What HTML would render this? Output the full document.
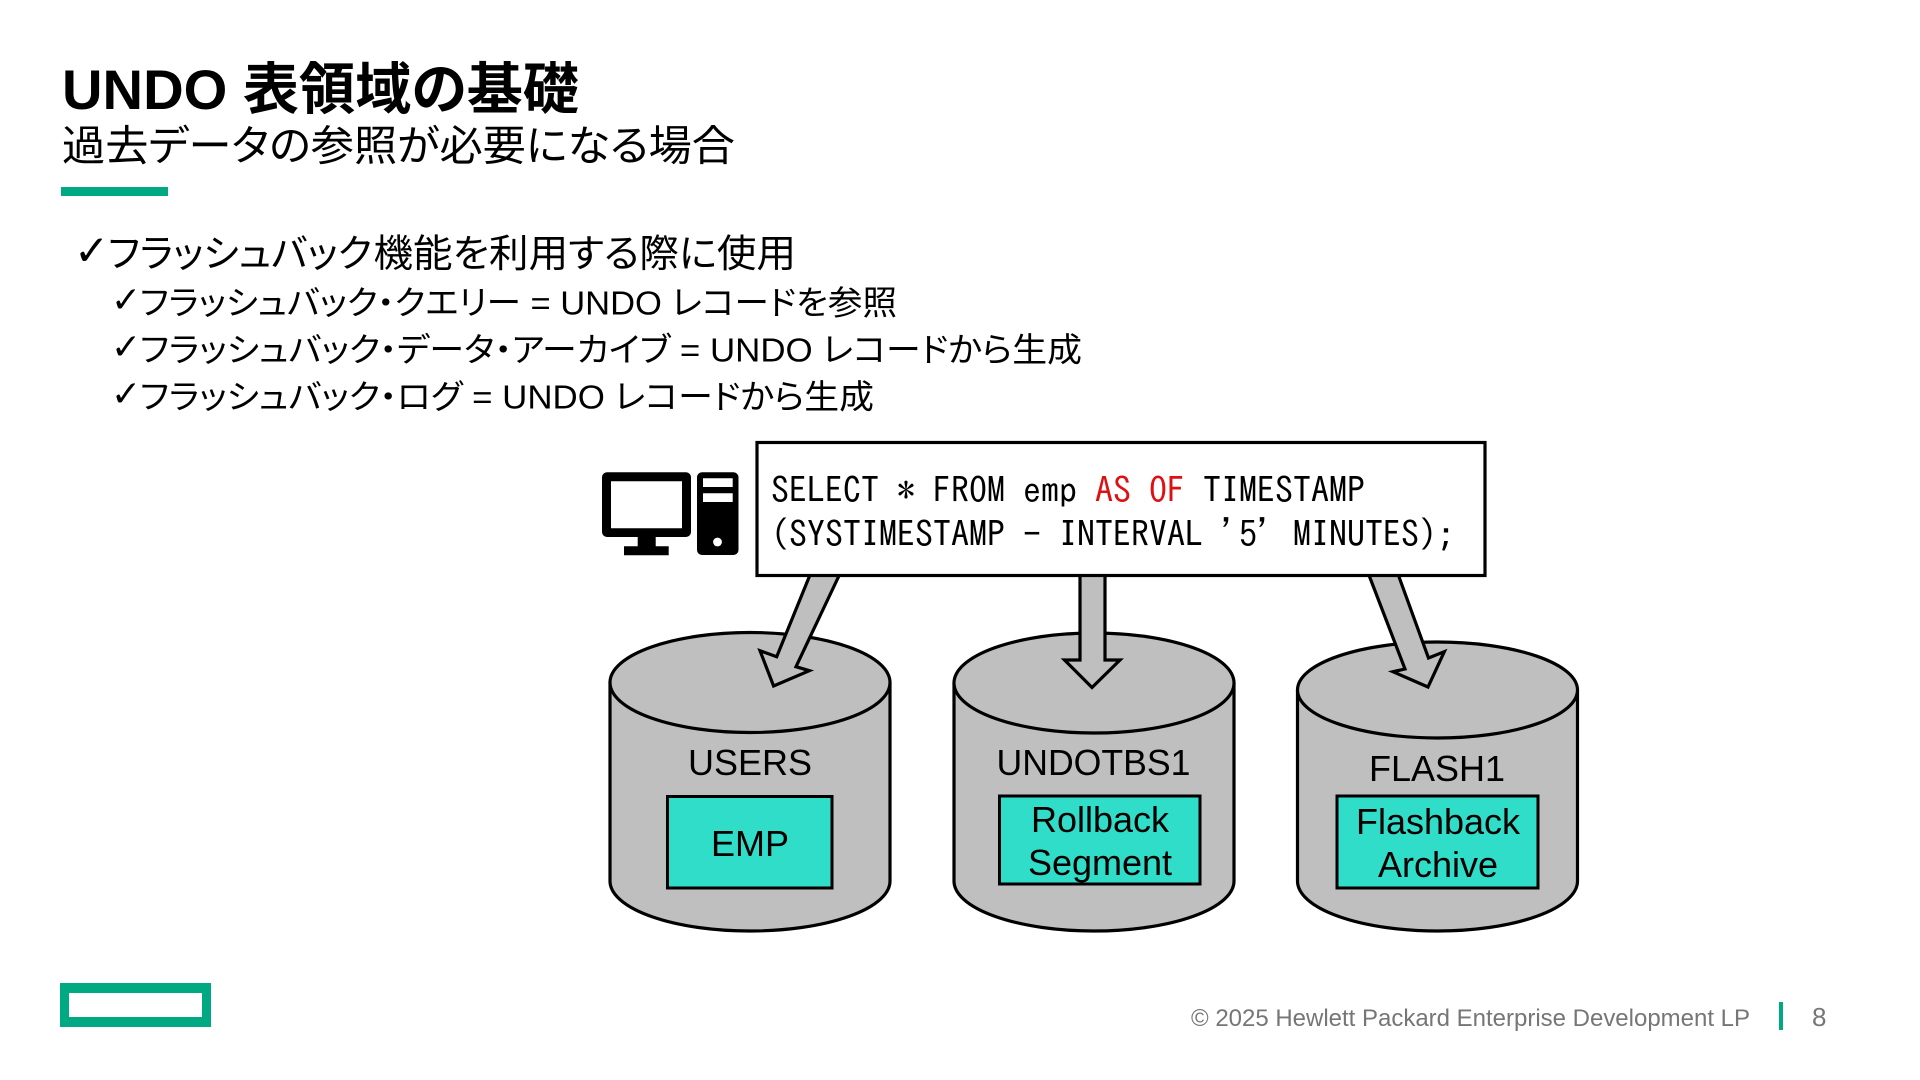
<!DOCTYPE html>
<html lang="ja">
<head>
<meta charset="utf-8">
<title>UNDO 表領域の基礎</title>
<style>
html,body{margin:0;padding:0;background:#fff;width:1920px;height:1080px;overflow:hidden}
svg{display:block}
.jp{font-family:"Liberation Sans","Noto Sans CJK JP",sans-serif;font-feature-settings:"palt";fill:#000}
.ck{font-family:"DejaVu Sans",sans-serif;fill:#000}
.sql{font-family:"IPAGothic",monospace;font-size:36px;fill:#000}
.lb{font-family:"Liberation Sans",sans-serif;font-size:36px;fill:#000;text-anchor:middle}
.ft{font-family:"Liberation Sans",sans-serif;fill:#767676}
</style>
</head>
<body>
<svg width="1920" height="1080" viewBox="0 0 1920 1080" xmlns="http://www.w3.org/2000/svg">
<rect width="1920" height="1080" fill="#fff"/>

<text class="jp" x="62" y="109" font-size="56" font-weight="700" textLength="517" lengthAdjust="spacingAndGlyphs">UNDO 表領域の基礎</text>
<text class="jp" x="62" y="160.5" font-size="42" textLength="673" lengthAdjust="spacingAndGlyphs">過去データの参照が必要になる場合</text>
<rect x="61" y="187" width="107" height="9" fill="#01A982"/>

<text class="ck" x="74" y="265" font-size="42" font-weight="700">✓</text>
<text class="jp" x="108" y="267" font-size="38.4" textLength="264" lengthAdjust="spacingAndGlyphs">フラッシュバック</text>
<text class="jp" x="373.5" y="267" font-size="38.4" textLength="422.5" lengthAdjust="spacingAndGlyphs">機能を利用する際に使用</text>
<text class="ck" x="111" y="312" font-size="36">✓</text>
<text class="jp" x="140" y="314.5" font-size="33.5" textLength="757" lengthAdjust="spacingAndGlyphs">フラッシュバック・クエリー = UNDO レコードを参照</text>
<text class="ck" x="111" y="359" font-size="36">✓</text>
<text class="jp" x="140" y="361.5" font-size="33.5" textLength="942" lengthAdjust="spacingAndGlyphs">フラッシュバック・データ・アーカイブ = UNDO レコードから生成</text>
<text class="ck" x="111" y="406" font-size="36">✓</text>
<text class="jp" x="140" y="408.5" font-size="33.5" textLength="734" lengthAdjust="spacingAndGlyphs">フラッシュバック・ログ = UNDO レコードから生成</text>

<!-- cylinders -->
<g fill="#BFBFBF" stroke="#000" stroke-width="3.2">
  <path d="M610 682.5V881A140 50 0 0 0 890 881V682.5"/>
  <ellipse cx="750" cy="682.5" rx="140" ry="50"/>
  <path d="M954 683V881A140 50 0 0 0 1234 881V683"/>
  <ellipse cx="1094" cy="683" rx="140" ry="50"/>
  <path d="M1297.5 690V881A140 50 0 0 0 1577.5 881V690"/>
  <ellipse cx="1437.5" cy="690" rx="140" ry="48"/>
</g>

<!-- block arrows -->
<g fill="#BFBFBF" stroke="#000" stroke-width="3.2" stroke-linejoin="miter">
  <path d="M812 570L776.7 656.7L760 650.7L773.6 686L809.4 670.7L796 666.7L841.7 570Z"/>
  <path d="M1080 570V660H1064.5L1092 687.5L1120 660H1105V570Z"/>
  <path d="M1367 570L1405 669L1393 671.7L1428 687L1444.3 651.7L1428.5 658L1396.5 570Z"/>
</g>

<!-- SQL box -->
<rect x="757" y="442.5" width="728" height="133" fill="#fff" stroke="#000" stroke-width="3.2"/>
<text class="sql" x="771" y="503" xml:space="preserve">SELECT * FROM emp <tspan fill="#DD1111">AS OF</tspan> TIMESTAMP</text>
<text class="sql" x="771" y="547" xml:space="preserve">(SYSTIMESTAMP - INTERVAL '5' MINUTES);</text>

<!-- PC icon -->
<path fill="#000" fill-rule="evenodd" d="M607 472.3H686a5 5 0 0 1 5 5V532a5 5 0 0 1-5 5H655.7V546.3H668.7V555.3H624V546.3H637.7V537H607a5 5 0 0 1-5-5V477.3a5 5 0 0 1 5-5ZM611 481.3V528.3H682V481.3Z"/>
<path fill="#000" fill-rule="evenodd" d="M702 472.3H733.5a5 5 0 0 1 5 5V550a5 5 0 0 1-5 5H702a5 5 0 0 1-5-5V477.3a5 5 0 0 1 5-5ZM703 478.3V487H732.7V478.3ZM703 493.3V502H732.7V493.3Z"/>
<circle cx="717.5" cy="542" r="4.4" fill="#fff"/>

<!-- inner rects -->
<g fill="#30DDC9" stroke="#000" stroke-width="3">
  <rect x="667.5" y="796.5" width="164.5" height="91.5"/>
  <rect x="999.5" y="796" width="200.5" height="88"/>
  <rect x="1337" y="796" width="201" height="92"/>
</g>
<text class="lb" x="750" y="775">USERS</text>
<text class="lb" x="1093.5" y="775" textLength="194" lengthAdjust="spacingAndGlyphs">UNDOTBS1</text>
<text class="lb" x="1437" y="781">FLASH1</text>
<text class="lb" x="750" y="856">EMP</text>
<text class="lb" x="1100" y="832">Rollback</text>
<text class="lb" x="1100" y="875">Segment</text>
<text class="lb" x="1438" y="834">Flashback</text>
<text class="lb" x="1438" y="877">Archive</text>

<!-- footer -->
<path fill="#01A982" fill-rule="evenodd" d="M60 983H211V1027H60ZM69 993V1017H202V993Z"/>
<text class="ft" x="1191" y="1026" font-size="24" textLength="559" lengthAdjust="spacingAndGlyphs">© 2025 Hewlett Packard Enterprise Development LP</text>
<rect x="1779" y="1002" width="4" height="28" fill="#01A982"/>
<text class="ft" x="1812" y="1026" font-size="26">8</text>
</svg>
</body>
</html>
